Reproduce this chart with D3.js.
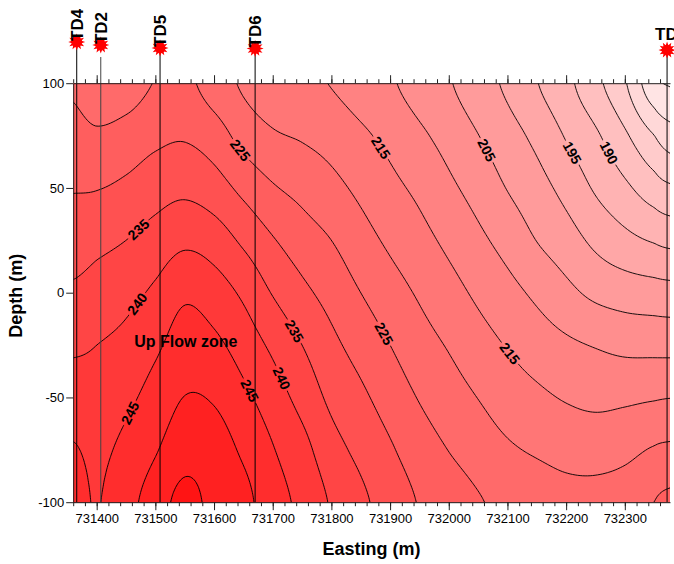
<!DOCTYPE html>
<html>
<head>
<meta charset="utf-8">
<script src="https://cdn.jsdelivr.net/npm/d3@7"></script>
<style>
  body { margin: 0; background: #fff; }
  svg text { font-family: "Liberation Sans", Arial, Helvetica, sans-serif; }
</style>
</head>
<body>
<svg id="chart" width="674" height="564"></svg>
<script>
// Grid of temperatures (°C) along the section: columns = easting, rows = depth
const eastings = [731360, 731400, 731450, 731500, 731550, 731600, 731650, 731700, 731750, 731800, 731850,
                  731900, 731950, 732000, 732050, 732100, 732150, 732200, 732250, 732300, 732350, 732377];
const depths = [100, 75, 50, 25, 0, -25, -50, -75, -100];
const temperature = [
  [224.2, 221.6, 222.6, 225.2, 226.0, 222.7, 219.3, 217.0, 216.0, 214.8, 212.7, 210.6, 207.9, 205.4, 202.2, 199.1, 195.2, 191.3, 186.4, 180.5, 171.5, 169.7],
  [227.0, 225.8, 226.9, 228.8, 229.5, 227.4, 223.2, 220.6, 219.5, 218.1, 215.9, 213.6, 210.9, 208.2, 205.1, 202.0, 198.7, 194.6, 190.8, 185.8, 180.1, 177.2],
  [229.7, 229.8, 231.0, 232.9, 233.9, 232.2, 228.7, 225.5, 223.5, 221.4, 218.9, 216.3, 213.9, 211.0, 208.1, 204.8, 201.9, 198.4, 194.4, 191.0, 187.3, 185.7],
  [232.7, 233.7, 235.0, 237.0, 239.0, 237.6, 234.1, 230.4, 227.4, 225.0, 221.9, 219.1, 216.6, 213.9, 211.1, 208.2, 204.9, 202.2, 198.9, 196.4, 194.6, 193.7],
  [235.8, 237.0, 238.5, 240.9, 244.1, 242.4, 239.1, 234.7, 231.2, 228.2, 225.0, 222.1, 219.4, 216.8, 214.1, 211.6, 209.0, 206.3, 203.9, 202.7, 202.1, 201.8],
  [239.2, 240.0, 241.4, 244.1, 247.3, 246.1, 242.8, 239.0, 235.0, 231.2, 228.1, 225.0, 222.0, 219.6, 217.0, 214.7, 212.6, 210.9, 209.7, 208.7, 208.5, 208.4],
  [242.4, 242.0, 243.9, 246.9, 250.1, 249.5, 246.2, 242.4, 238.3, 233.9, 231.0, 227.8, 224.7, 222.2, 219.9, 217.6, 216.0, 214.6, 213.8, 214.1, 214.6, 214.9],
  [245.4, 244.0, 246.3, 249.6, 253.0, 252.3, 249.2, 245.3, 241.7, 236.9, 233.7, 230.6, 227.4, 224.9, 222.7, 220.7, 219.4, 218.3, 218.0, 218.7, 220.4, 220.9],
  [247.0, 244.8, 248.3, 252.4, 256.5, 253.5, 251.5, 247.0, 243.8, 239.5, 236.0, 232.9, 229.7, 227.6, 225.4, 223.8, 222.8, 221.7, 221.6, 222.5, 225.0, 226.0]
];
const levels = d3.range(170, 256, 5);

// Axis ticks
const xTicks = d3.range(731400, 732301, 100);
const xMinorTicks = d3.range(731360, 732377, 20);
const yTicks = [100, 50, 0, -50, -100];

// Wells: name, easting, collar elevation, top of the drawn trace
const wellNames = ["TD4", "TD2", "TD5", "TD6", "TD3"];
const wellEastings = [731366, 731407, 731508, 731670, 732372];
const wellTops = [119.7, 118.2, 116.8, 116.6, 115.8];
const wellTraceTops = [119.7, 112.5, 116.8, 116.6, 115.8];
const wellLabelAngles = [-90, -90, -90, -90, 0];

// Contour labels: level and approximate spot along the line
const labelLevels = [225, 235, 240, 245, 235, 240, 245, 225, 215, 215, 205, 195, 190];
const labelEastings = [731641, 731469, 731462, 731457, 731736, 731712, 731661, 731884, 732100, 731879, 732058, 732207, 732260];
const labelDepths = [68, 31, -4, -58, -19, -41, -46, -21, -29, 68, 67, 67, 65];

const zoneText = "Up Flow zone";
const zoneEasting = 731552, zoneDepth = -23;

const svg = d3.select("#chart");
const x = d3.scaleLinear().domain([731360, 732377]).range([73.2, 670]);
const y = d3.scaleLinear().domain([100, -100]).range([83.2, 502.2]);
const x0 = x.range()[0], x1 = x.range()[1], y0 = y.range()[0], y1 = y.range()[1];
const PW = x1 - x0, PH = y1 - y0;

const color = v => {
  const g = Math.round(Math.max(0, Math.min(255, 240 - (v - 167.5) * 2.44)));
  return `rgb(255,${g},${g})`;
};

// --- resample the grid smoothly (Catmull-Rom) for contouring ---
const nr = depths.length, nc = eastings.length;
const clamp = (v, a, b) => Math.max(a, Math.min(b, v));
const at = (r, c) => temperature[clamp(r, 0, nr - 1)][clamp(c, 0, nc - 1)];
const cr = (p0, p1, p2, p3, t) =>
  0.5 * (2 * p1 + (-p0 + p2) * t + (2 * p0 - 5 * p1 + 4 * p2 - p3) * t * t + (-p0 + 3 * p1 - 3 * p2 + p3) * t * t * t);
function colIndex(e) {
  let k = d3.bisectRight(eastings, e) - 1;
  k = clamp(k, 0, nc - 2);
  return k + (e - eastings[k]) / (eastings[k + 1] - eastings[k]);
}
function sample(ri, ci) {
  let r = Math.floor(ri), c = Math.floor(ci);
  if (r >= nr - 1) r = nr - 2;
  if (c >= nc - 1) c = nc - 2;
  const tr = ri - r, tc = ci - c;
  const rows = [-1, 0, 1, 2].map(dr =>
    cr(at(r + dr, c - 1), at(r + dr, c), at(r + dr, c + 1), at(r + dr, c + 2), tc));
  return cr(rows[0], rows[1], rows[2], rows[3], tr);
}

const nx = 240, ny = 170;
const values = new Float64Array(nx * ny);
for (let j = 0; j < ny; j++) {
  const d = y.invert(y0 + j / (ny - 1) * PH);
  const ri = (depths[0] - d) / (depths[0] - depths[1]);
  for (let i = 0; i < nx; i++) {
    const e = x.invert(x0 + i / (nx - 1) * PW);
    values[j * nx + i] = sample(ri, colIndex(e));
  }
}
const contours = d3.contours().size([nx, ny]).thresholds(levels)(values);
const gridToPx = (gx, gy) => [x0 + (gx - 0.5) * PW / (nx - 1), y0 + (gy - 0.5) * PH / (ny - 1)];
const proj = d3.geoTransform({
  point(gx, gy) { const p = gridToPx(gx, gy); this.stream.point(p[0], p[1]); }
});
const path = d3.geoPath(proj);

const defs = svg.append("defs");
defs.append("clipPath").attr("id", "plotClip")
  .append("rect").attr("x", x0).attr("y", y0).attr("width", PW).attr("height", PH);
const mask = defs.append("mask").attr("id", "labelMask").attr("maskUnits", "userSpaceOnUse")
  .attr("x", 0).attr("y", 0).attr("width", 674).attr("height", 564);
mask.append("rect").attr("width", 674).attr("height", 564).attr("fill", "#fff");

// filled bands
const fillG = svg.append("g").attr("clip-path", "url(#plotClip)");
fillG.append("rect").attr("x", x0).attr("y", y0).attr("width", PW).attr("height", PH)
  .attr("fill", color(levels[0] - 2.5));
fillG.selectAll("path").data(contours).join("path")
  .attr("d", path).attr("fill", d => color(d.value + 2.5)).attr("stroke", d => color(d.value + 2.5))
  .attr("stroke-width", 0.3);

// contour lines
const lineG = svg.append("g").attr("clip-path", "url(#plotClip)")
  .append("g").attr("mask", "url(#labelMask)");
lineG.selectAll("path").data(contours).join("path")
  .attr("d", path).attr("fill", "none").attr("stroke", "#000").attr("stroke-width", 0.9);

// contour labels placed on their lines
const labelG = svg.append("g");
labelLevels.forEach((lev, k) => {
  const c = contours.find(cc => cc.value === lev);
  if (!c) return;
  const tx = x(labelEastings[k]), ty = y(labelDepths[k]);
  let best = null, bd = Infinity;
  c.coordinates.forEach(poly => poly.forEach(ring => {
    const pts = ring.map(p => gridToPx(p[0], p[1]));
    pts.forEach((p, idx) => {
      if (p[0] < x0 + 2 || p[0] > x1 - 2 || p[1] < y0 + 2 || p[1] > y1 - 2) return;
      const dd = (p[0] - tx) ** 2 + (p[1] - ty) ** 2;
      if (dd < bd) { bd = dd; best = { pts, idx }; }
    });
  }));
  if (!best) return;
  const n = best.pts.length;
  const p = best.pts[best.idx];
  const a = best.pts[(best.idx - 3 + n) % n], b = best.pts[(best.idx + 3) % n];
  let ang = Math.atan2(b[1] - a[1], b[0] - a[0]) * 180 / Math.PI;
  if (ang > 90) ang -= 180;
  if (ang <= -90) ang += 180;
  const t = labelG.append("text")
    .attr("transform", `translate(${p[0]},${p[1]}) rotate(${ang})`)
    .attr("text-anchor", "middle").attr("dy", "0.36em")
    .attr("font-size", 14).attr("font-weight", "bold").attr("fill", "#000")
    .text(lev);
  const len = t.node().getComputedTextLength();
  mask.append("rect")
    .attr("transform", `translate(${p[0]},${p[1]}) rotate(${ang})`)
    .attr("x", -len / 2 - 2).attr("y", -7).attr("width", len + 4).attr("height", 14)
    .attr("fill", "#000");
});

// wells
const starPath = (r1, r2, n) => {
  const pts = [];
  for (let i = 0; i < 2 * n; i++) {
    const r = i % 2 ? r2 : r1, a = i * Math.PI / n - Math.PI / 2;
    pts.push([r * Math.cos(a), r * Math.sin(a)]);
  }
  return "M" + pts.map(p => p[0].toFixed(2) + "," + p[1].toFixed(2)).join("L") + "Z";
};
const wellG = svg.append("g");
wellNames.forEach((name, k) => {
  const wx = x(wellEastings[k]);
  wellG.append("line").attr("x1", wx).attr("x2", wx).attr("y1", y(wellTraceTops[k])).attr("y2", y(-100))
    .attr("stroke", k === 1 ? "#444" : "#000").attr("stroke-width", 1);
});
wellNames.forEach((name, k) => {
  const wx = x(wellEastings[k]), wy = y(wellTops[k]);
  wellG.append("path").attr("d", starPath(8.5, 5, 12)).attr("transform", `translate(${wx},${wy})`)
    .attr("fill", "#ff0000");
  wellG.append("circle").attr("cx", wx).attr("cy", wy).attr("r", 5.2).attr("fill", "#ff0000");
  if (wellLabelAngles[k] === -90) {
    wellG.append("text").attr("transform", `translate(${wx},${wy - 1}) rotate(-90)`)
      .attr("dy", "0.36em").attr("font-size", 17).attr("font-weight", "bold").text(name);
  } else {
    wellG.append("text").attr("x", wx - 12).attr("y", wy - 10)
      .attr("font-size", 17).attr("font-weight", "bold").text(name);
  }
});

// axes
const styleAxis = g => {
  g.selectAll("path.domain").attr("stroke", "#222");
  g.selectAll(".tick line").attr("stroke", "#222");
  g.selectAll(".tick text").attr("font-size", 13).attr("fill", "#000")
    .attr("font-family", "'Liberation Sans', Arial, sans-serif");
};
svg.append("g").attr("transform", `translate(${x0},0)`)
  .call(d3.axisLeft(y).tickValues(yTicks).tickSize(7).tickSizeOuter(0).tickPadding(2)
    .tickFormat(d => String(d)))
  .call(styleAxis);
svg.append("g").attr("transform", `translate(0,${y0})`)
  .call(d3.axisTop(x).tickValues(xMinorTicks).tickSize(4).tickSizeOuter(0).tickFormat(""))
  .call(styleAxis);
svg.append("g").attr("transform", `translate(0,${y0})`)
  .call(d3.axisTop(x).tickValues(xTicks).tickSize(8).tickSizeOuter(0).tickFormat(""))
  .call(g => g.select(".domain").remove()).call(styleAxis);
svg.append("g").attr("transform", `translate(0,${y1})`)
  .call(d3.axisBottom(x).tickValues(xMinorTicks).tickSize(4).tickSizeOuter(0).tickFormat(""))
  .call(styleAxis);
svg.append("g").attr("transform", `translate(0,${y1})`)
  .call(d3.axisBottom(x).tickValues(xTicks).tickSize(8).tickSizeOuter(0).tickPadding(4)
    .tickFormat(d => String(d)))
  .call(g => g.select(".domain").remove()).call(styleAxis);

// annotation and titles
svg.append("text").attr("x", x(zoneEasting)).attr("y", y(zoneDepth)).attr("dy", "0.36em")
  .attr("text-anchor", "middle").attr("font-size", 16).attr("font-weight", "bold").text(zoneText);
svg.append("text").attr("x", (x0 + x1) / 2).attr("y", 555).attr("text-anchor", "middle")
  .attr("font-size", 18).attr("font-weight", "bold").text("Easting (m)");
svg.append("text").attr("transform", `translate(22,${(y0 + y1) / 2 + 3}) rotate(-90)`)
  .attr("text-anchor", "middle").attr("font-size", 18).attr("font-weight", "bold").text("Depth (m)");
</script>
</body>
</html>
